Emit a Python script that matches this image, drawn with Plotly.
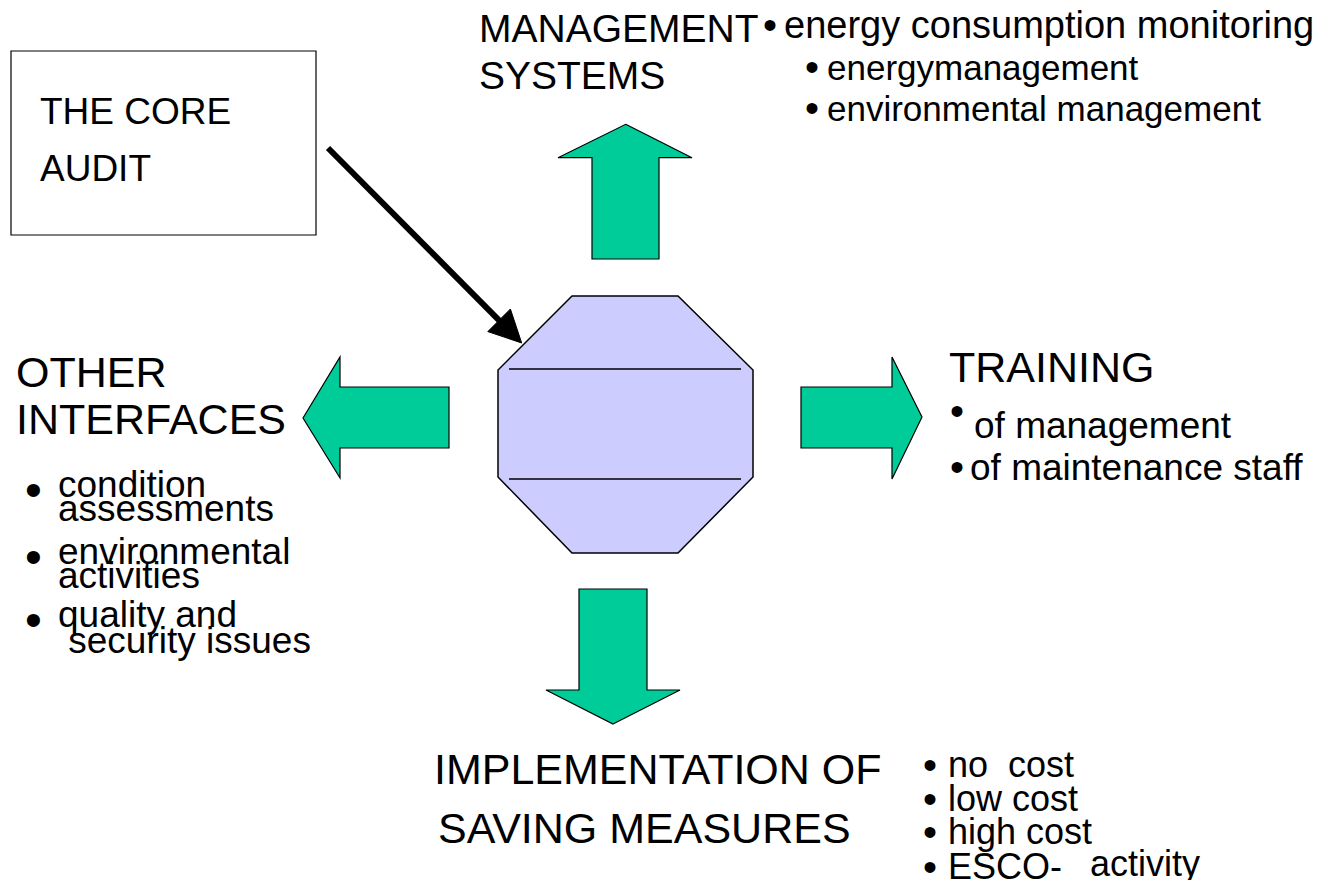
import plotly.graph_objects as go

# ---------------- text content ----------------
core_label = ["THE CORE", "AUDIT"]
mgmt_title = ["MANAGEMENT", "SYSTEMS"]
mgmt_items = ["energy consumption monitoring", "energymanagement", "environmental management"]
other_title = ["OTHER", "INTERFACES"]
other_items = [["condition", "assessments"], ["environmental", "activities"], ["quality and", " security issues"]]
training_title = ["TRAINING"]
training_items = ["of management", "of maintenance staff"]
impl_title = ["IMPLEMENTATION OF", "SAVING MEASURES"]
impl_items = ["no  cost", "low cost", "high cost", "ESCO-"]
impl_extra = ["activity"]

# ---------------- styling / geometry (pixel space of the 1330x880 page) ----------------
W, H = 1330, 880
PAD = 8  # default page margin of the html body
FONT = "Liberation Sans, Arial, sans-serif"
GREEN = "#00cc99"
LILAC = "#ccccff"

fig = go.Figure()
fig.update_layout(
    width=W - PAD, height=H - PAD, margin=dict(l=0, r=0, t=0, b=0),
    paper_bgcolor="white", plot_bgcolor="white", showlegend=False,
    xaxis=dict(range=[PAD, W], visible=False, fixedrange=True),
    yaxis=dict(range=[H, PAD], visible=False, fixedrange=True),
)

def poly(pts, fill, lw=1.2, color="black"):
    d = "M " + " L ".join(f"{x},{y}" for x, y in pts) + " Z"
    fig.add_shape(type="path", path=d, xref="x", yref="y",
                  fillcolor=fill, line=dict(color=color, width=lw), layer="above")

def text(s, x, y, size, xanchor="left"):
    fig.add_annotation(x=x, y=y, xref="x", yref="y", text=s, showarrow=False,
                       xanchor=xanchor, yanchor="middle",
                       font=dict(family=FONT, size=size, color="black"))

def bullet(x, y, size):
    text("\u2022", x, y, size, xanchor="center")

# core audit box
fig.add_shape(type="rect", x0=11, y0=51, x1=316, y1=235, xref="x", yref="y",
              line=dict(color="black", width=1.2), fillcolor="white")
text(core_label[0], 38, 111, 37)
text(core_label[1], 38, 168, 37)

# black arrow toward octagon
tip = (521.7, 343.0)
base = (499.1, 320.3)
fig.add_shape(type="line", x0=328, y0=148, x1=base[0] + 2, y1=base[1] + 2,
              xref="x", yref="y", line=dict(color="black", width=6))
poly([tip, (487.8, 331.6), (510.4, 309.0)], "black", lw=1)

# octagon
oct_pts = [(572, 296), (678, 296), (753, 370), (753, 477),
           (678, 553), (572, 553), (498, 477), (498, 370)]
poly(oct_pts, LILAC, lw=1.5)
for yy in (369, 479):
    fig.add_shape(type="line", x0=509, x1=741, y0=yy, y1=yy, xref="x", yref="y",
                  line=dict(color="black", width=1.5))

# green arrows
poly([(625.7, 124.3), (692, 157.7), (659, 157.7), (659, 259), (592, 259), (592, 157.7), (558, 157.7)], GREEN)
poly([(613, 724), (680, 690), (647, 690), (647, 589), (579, 589), (579, 690), (546, 690)], GREEN)
poly([(303, 418), (340, 357), (340, 387), (449, 387), (449, 448), (340, 448), (340, 478)], GREEN)
poly([(922, 417), (892, 357), (892, 387), (801, 387), (801, 448), (892, 448), (892, 479)], GREEN)

# management systems
text(mgmt_title[0], 477, 28, 39)
text(mgmt_title[1], 477, 75, 39)
mg_bul = [(770, 25), (812, 67), (812, 108)]
mg_txt = [(782, 25, 38), (825, 67, 35), (825, 108, 35)]
for s, (bx, by), (x, y, fs) in zip(mgmt_items, mg_bul, mg_txt):
    bullet(bx, by, 40)
    text(s, x, y, fs)

# other interfaces
text(other_title[0], 14, 372, 43)
text(other_title[1], 14, 419, 43)
ot_bullets = [(33, 489), (33, 556), (33, 619)]
ot_lines = [[(56, 484), (56, 508)], [(56, 551), (56, 575)], [(56, 614), (56, 640)]]
for (bx, by), items, lines in zip(ot_bullets, other_items, ot_lines):
    bullet(bx, by, 48)
    for s, (x, y) in zip(items, lines):
        text(s, x, y, 37)

# training
text(training_title[0], 947, 367, 43)
bullet(957, 411, 40)
text(training_items[0], 972, 425, 37)
bullet(957, 467, 40)
text(training_items[1], 968, 467, 37)

# implementation
text(impl_title[0], 432, 769, 43)
text(impl_title[1], 436, 828, 43)
im_y = [764, 798, 831, 866]
for s, y in zip(impl_items, im_y):
    bullet(930, y + 1, 40)
    text(s, 946, y, 36)
text(impl_extra[0], 1088, 863, 36)

fig.write_html("out.html")
